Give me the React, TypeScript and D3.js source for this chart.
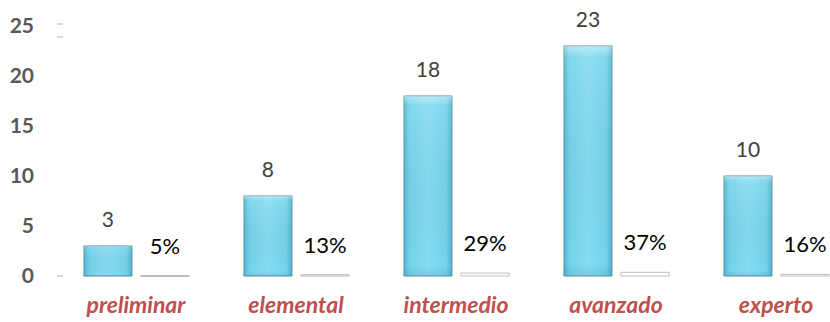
import React from "react";
import * as d3 from "d3";

const categories = ["preliminar", "elemental", "intermedio", "avanzado", "experto"];
const counts = [3, 8, 18, 23, 10];
const percents = [0.05, 0.13, 0.29, 0.37, 0.16];
const percentLabels = ["5%", "13%", "29%", "37%", "16%"];
const yTicks = [0, 5, 10, 15, 20, 25];
const series = ["count", "percent"];

const W = 830;
const H = 322;

export default function App() {
  const x = d3.scaleBand<string>().domain(categories).range([56, 856]).paddingInner(0).paddingOuter(0);
  const x1 = d3.scaleBand<string>().domain(series).range([28, 133]).paddingInner(0.16);
  const y = d3.scaleLinear().domain([0, 25]).range([276, 26]);
  const font = "Lato, 'Open Sans', sans-serif";

  return (
    <svg width={W} height={H} style={{ position: "absolute", left: 0, top: 0, background: "#fff" }}>
      <defs>
        <linearGradient id="barH" x1="0" x2="1" y1="0" y2="0">
          <stop offset="0" stopColor="#4fbcd9" />
          <stop offset="0.12" stopColor="#74d3ec" />
          <stop offset="0.5" stopColor="#86dcf0" />
          <stop offset="0.88" stopColor="#74d3ec" />
          <stop offset="1" stopColor="#4ab7d5" />
        </linearGradient>
        <linearGradient id="barV" x1="0" x2="0" y1="0" y2="1">
          <stop offset="0" stopColor="#ffffff" stopOpacity="0.45" />
          <stop offset="0.05" stopColor="#ffffff" stopOpacity="0.1" />
          <stop offset="0.95" stopColor="#000000" stopOpacity="0" />
          <stop offset="1" stopColor="#1a6f86" stopOpacity="0.12" />
        </linearGradient>
      </defs>

      {yTicks.map((t) => (
        <text key={t} x={34} y={y(t)} dy="0.35em" textAnchor="end" fontFamily={font} fontWeight="bold" fontSize={21} fill="#595959">
          {t}
        </text>
      ))}
      {[24, 37, 276].map((yy, i) => (
        <line key={i} x1={57} x2={63} y1={yy} y2={yy} stroke="#d9d9d9" strokeWidth={2} />
      ))}

      {categories.map((c, i) => {
        const gx = x(c)!;
        const bx = gx + x1("count")!;
        const px = gx + x1("percent")!;
        const bw = x1.bandwidth();
        const top = y(counts[i]);
        const ptop = y(percents[i]);
        return (
          <g key={c}>
            <rect x={bx} y={top} width={bw} height={y(0) - top} fill="url(#barH)" stroke="#5f8c99" strokeWidth={1} />
            <rect x={bx} y={top} width={bw} height={y(0) - top} fill="url(#barV)" />
            <text x={bx + bw / 2} y={top - 19} textAnchor="middle" fontFamily={font} fontSize={21} fill="#404040">
              {counts[i]}
            </text>
            <rect x={px} y={ptop} width={bw} height={Math.max(1, y(0) - ptop)} fill="#ffffff" stroke="#bfbfbf" strokeWidth={1} />
            <text x={px + bw / 2} y={ptop - 22} textAnchor="middle" fontFamily={font} fontSize={22} fill="#000000">
              {percentLabels[i]}
            </text>
            <text x={gx + 80} y={313} textAnchor="middle" fontFamily={font} fontWeight="bold" fontStyle="italic" fontSize={23} fill="#c0504d">
              {c}
            </text>
          </g>
        );
      })}
    </svg>
  );
}
